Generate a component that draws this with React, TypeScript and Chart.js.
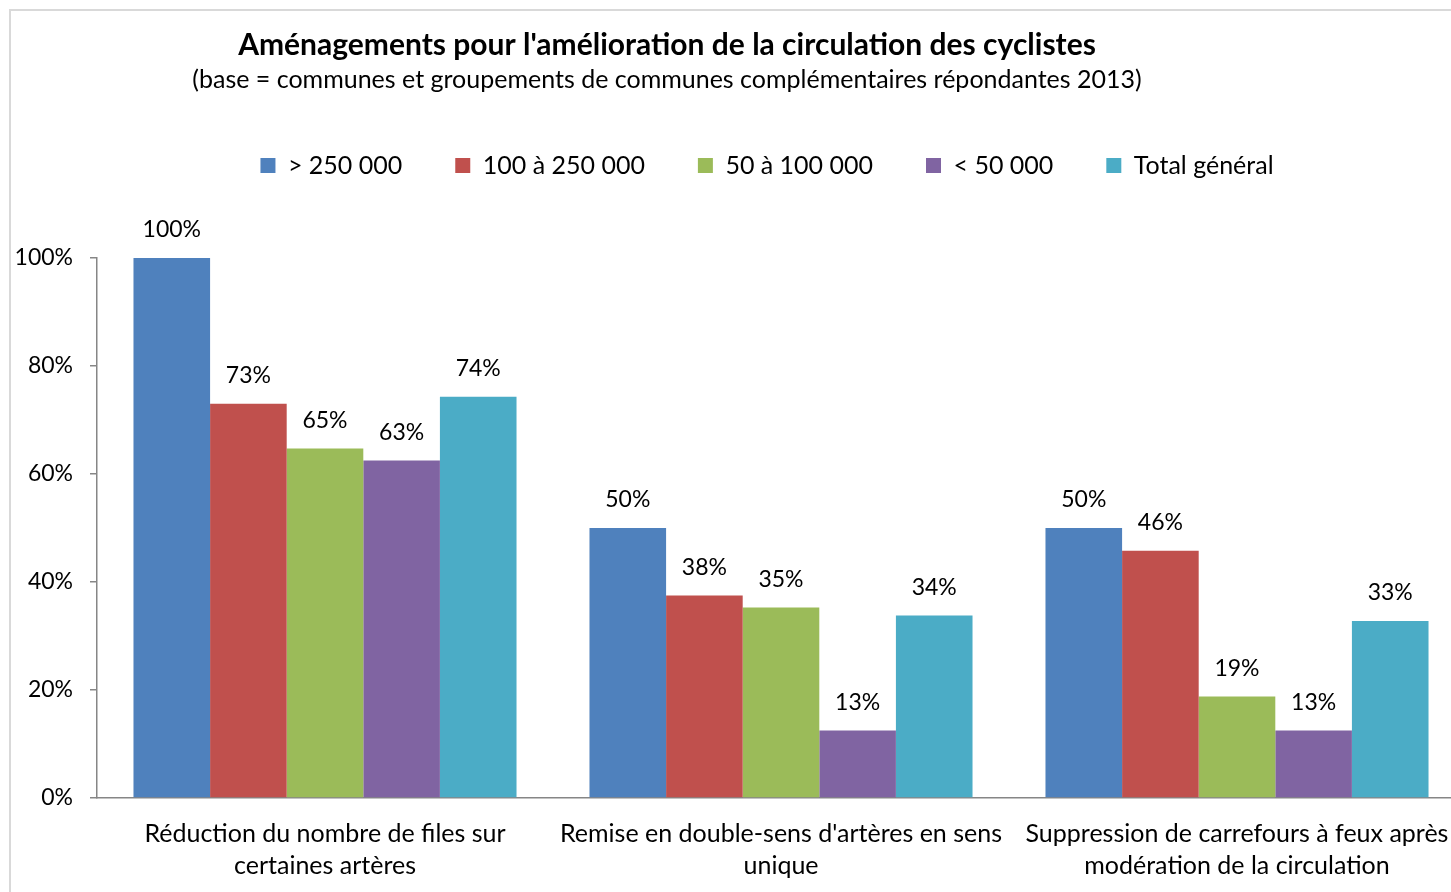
import React, { useEffect, useRef } from "react";
import { Chart, registerables } from "chart.js";

Chart.register(...registerables);

const TITLE = "Aménagements pour l'amélioration de la circulation des cyclistes";
const SUBTITLE = "(base = communes et groupements de communes complémentaires répondantes 2013)";

const categories: string[][] = [
  ["Réduction du nombre de files sur", "certaines artères"],
  ["Remise en double-sens d'artères en sens", "unique"],
  ["Suppression de carrefours à feux après", "modération de la circulation"],
];

const seriesNames = ["> 250 000", "100 à 250 000", "50 à 100 000", "< 50 000", "Total général"];
const seriesColors = ["#4F81BD", "#C0504D", "#9BBB59", "#8064A2", "#4BACC6"];

const over250k = [100, 50, 50];
const from100to250k = [73, 37.5, 45.8];
const from50to100k = [64.7, 35.3, 18.8];
const under50k = [62.5, 12.5, 12.5];
const totalGeneral = [74.3, 33.8, 32.8];

const yTicks = [0, 20, 40, 60, 80, 100];

const FONT = "Lato, 'Open Sans', sans-serif";

const framePlugin = {
  id: "frame",
  beforeDraw(chart: any) {
    const ctx = chart.ctx;
    ctx.save();
    ctx.fillStyle = "#ffffff";
    ctx.fillRect(0, 0, chart.width, chart.height);
    ctx.strokeStyle = "#d9d9d9";
    ctx.lineWidth = 2;
    ctx.beginPath();
    ctx.moveTo(10, chart.height + 5);
    ctx.lineTo(10, 10);
    ctx.lineTo(chart.width + 5, 10);
    ctx.stroke();
    ctx.restore();
  },
};

const titleShiftPlugin = {
  id: "titleShift",
  afterLayout(chart: any) {
    chart.boxes.forEach((b: any) => {
      if (b !== chart.legend && b.options && typeof b.options.text === "string") {
        b.left = 10;
        b.right = 1324;
        b.width = 1314;
      }
    });
    if (chart.legend) {
      chart.legend.left -= 14;
      chart.legend.right -= 14;
    }
  },
};

const valueLabelPlugin = {
  id: "valueLabels",
  afterDatasetsDraw(chart: any) {
    const ctx = chart.ctx;
    ctx.save();
    ctx.font = `23px ${FONT}`;
    ctx.fillStyle = "#000000";
    ctx.textAlign = "center";
    ctx.textBaseline = "middle";
    chart.data.datasets.forEach((ds: any, di: number) => {
      const meta = chart.getDatasetMeta(di);
      meta.data.forEach((bar: any, i: number) => {
        const v = ds.data[i];
        ctx.fillText(`${Math.round(v)}%`, bar.x, bar.y - 28);
      });
    });
    ctx.restore();
  },
};

export default function App() {
  const ref = useRef<HTMLCanvasElement | null>(null);

  useEffect(() => {
    if (!ref.current) return;
    Chart.defaults.font.family = FONT;
    const allSeries = [over250k, from100to250k, from50to100k, under50k, totalGeneral];
    const chart = new Chart(ref.current, {
      type: "bar",
      data: {
        labels: categories,
        datasets: allSeries.map((d, i) => ({
          label: seriesNames[i],
          data: d,
          backgroundColor: seriesColors[i],
          borderWidth: 0,
          categoryPercentage: 0.84,
          barPercentage: 1.0,
        })),
      },
      options: {
        responsive: false,
        animation: false,
        layout: { padding: { top: 10, left: 10, right: 15, bottom: 0 } },
        plugins: {
          title: {
            display: true,
            text: TITLE,
            color: "#000000",
            font: { size: 30, weight: "bold", family: FONT, lineHeight: 1.2 },
            padding: { top: 17, bottom: 0 },
          },
          subtitle: {
            display: true,
            text: SUBTITLE,
            color: "#000000",
            font: { size: 25, family: FONT, lineHeight: 1.2 },
            padding: { top: 2, bottom: 5 },
          },
          legend: {
            display: true,
            position: "top",
            fullSize: false,
            labels: {
              boxWidth: 15,
              boxHeight: 15,
              padding: 53,
              color: "#000000",
              font: { size: 25, family: FONT },
            },
          },
          tooltip: { enabled: false },
        },
        scales: {
          x: {
            type: "category",
            position: "bottom",
            grid: { display: false, drawTicks: false },
            border: { display: true, color: "#868686", width: 1.5 },
            afterFit(s: any) {
              s.height = 94;
            },
            ticks: {
              color: "#000000",
              font: { size: 25, family: FONT, lineHeight: 1.28 },
              padding: 20,
              maxRotation: 0,
              autoSkip: false,
            },
          },
          spacer: {
            type: "linear",
            axis: "x",
            position: "top",
            display: true,
            grid: { display: false, drawTicks: false },
            border: { display: false },
            ticks: { display: false },
            afterFit(s: any) {
              s.height = 70;
            },
          },
          y: {
            type: "linear",
            min: 0,
            max: 100,
            grid: { drawOnChartArea: false, tickLength: 7, color: "#868686", lineWidth: 1.5 },
            border: { display: true, color: "#868686", width: 1.5 },
            afterBuildTicks(s: any) {
              s.ticks = yTicks.map((v) => ({ value: v }));
            },
            afterFit(s: any) {
              s.width = 87;
            },
            ticks: {
              color: "#000000",
              font: { size: 23, family: FONT },
              padding: 17,
              callback: (v: any) => `${v}%`,
            },
          },
        },
      },
      plugins: [framePlugin, titleShiftPlugin, valueLabelPlugin],
    } as any);
    return () => chart.destroy();
  }, []);

  return (
    <div style={{ position: "fixed", left: 0, top: 0, width: 1451, height: 892, overflow: "hidden", background: "#fff" }}>
      <canvas ref={ref} width={1480} height={892} style={{ display: "block", width: 1480, height: 892 }} />
    </div>
  );
}
